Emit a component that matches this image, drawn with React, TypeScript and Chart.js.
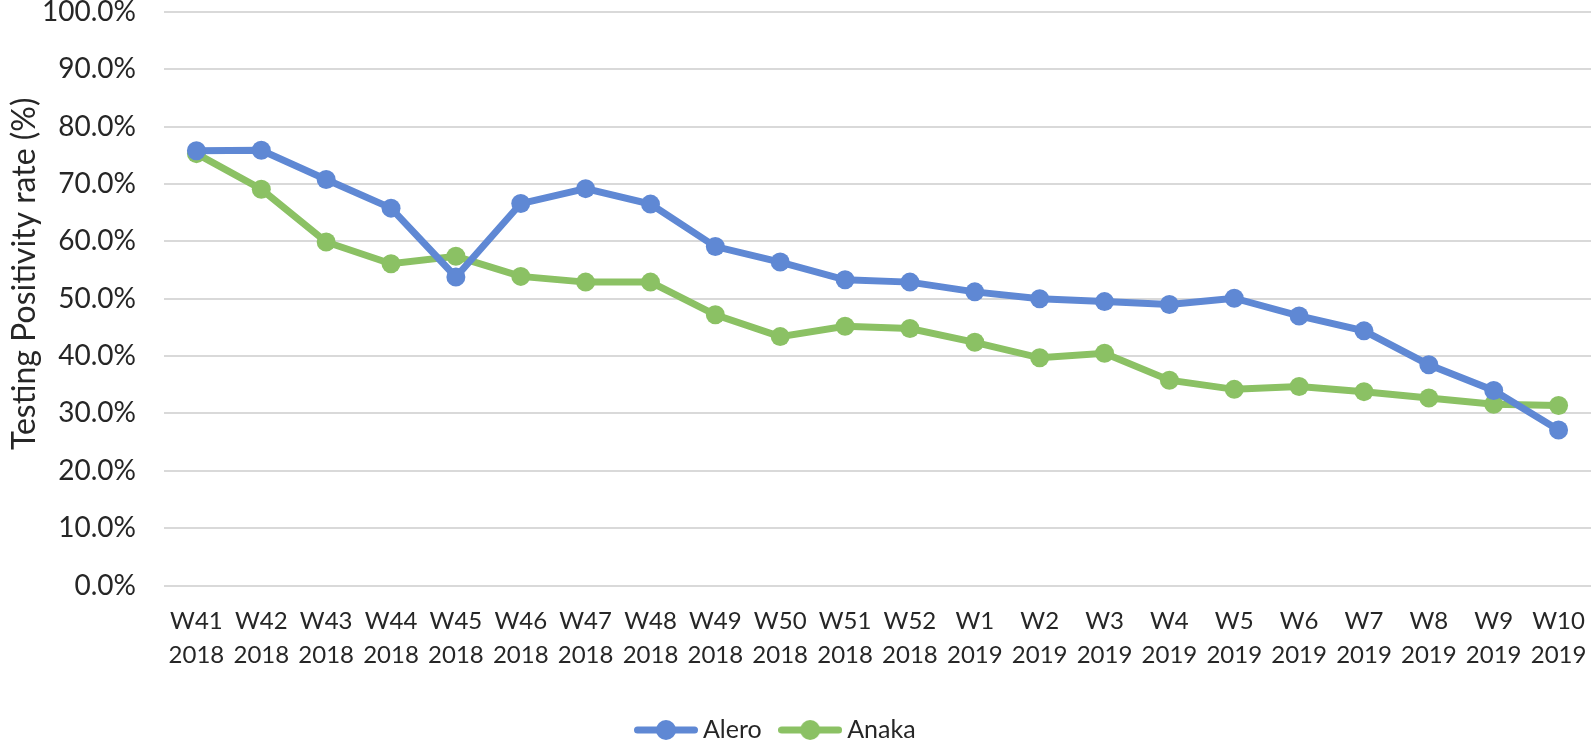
import React, { useEffect, useRef } from 'react';
import { Chart, registerables } from 'chart.js';

Chart.register(...registerables);

const weeks = ['W41', 'W42', 'W43', 'W44', 'W45', 'W46', 'W47', 'W48', 'W49', 'W50', 'W51', 'W52', 'W1', 'W2', 'W3', 'W4', 'W5', 'W6', 'W7', 'W8', 'W9', 'W10'];
const years = ['2018', '2018', '2018', '2018', '2018', '2018', '2018', '2018', '2018', '2018', '2018', '2018', '2019', '2019', '2019', '2019', '2019', '2019', '2019', '2019', '2019', '2019'];
const alero = [75.8, 75.9, 70.8, 65.8, 53.8, 66.6, 69.2, 66.5, 59.1, 56.4, 53.3, 52.9, 51.2, 50.0, 49.5, 49.0, 50.1, 47.0, 44.4, 38.5, 34.0, 27.1];
const anaka = [75.3, 69.1, 59.9, 56.1, 57.4, 53.9, 52.9, 52.9, 47.2, 43.4, 45.2, 44.8, 42.4, 39.7, 40.5, 35.8, 34.2, 34.7, 33.8, 32.7, 31.6, 31.4];
const seriesNames = ['Alero', 'Anaka'];
const yAxisTitle = 'Testing Positivity rate (%)';

const BLUE = '#5F88D4';
const GREEN = '#8BC164';
const TEXT = '#262626';
const FONT = "Lato, 'Open Sans', sans-serif";

function legendIcon(color: string) {
  const c = document.createElement('canvas');
  c.width = 64;
  c.height = 22;
  const ctx = c.getContext('2d')!;
  ctx.strokeStyle = color;
  ctx.lineWidth = 7;
  ctx.lineCap = 'round';
  ctx.beginPath();
  ctx.moveTo(3.5, 11);
  ctx.lineTo(60.5, 11);
  ctx.stroke();
  ctx.fillStyle = color;
  ctx.beginPath();
  ctx.arc(32, 11, 10, 0, Math.PI * 2);
  ctx.fill();
  return c;
}

const yTitlePlugin = {
  id: 'yTitleCustom',
  afterDraw(chart: any) {
    const ctx = chart.ctx;
    const area = chart.chartArea;
    ctx.save();
    ctx.translate(25, (area.top + area.bottom) / 2 - 25);
    ctx.rotate(-Math.PI / 2);
    ctx.font = `32px ${FONT}`;
    ctx.fillStyle = TEXT;
    ctx.textAlign = 'center';
    ctx.textBaseline = 'middle';
    ctx.fillText(yAxisTitle, 0, 0);
    ctx.restore();
  },
};

const legendShiftPlugin = {
  id: 'legendShift',
  afterLayout(chart: any) {
    const lg = chart.legend;
    if (lg) {
      lg.left -= 17;
      lg.right -= 17;
    }
  },
};

export default function App() {
  const ref = useRef<HTMLCanvasElement>(null);

  useEffect(() => {
    if (!ref.current) return;
    const icons = [legendIcon(BLUE), legendIcon(GREEN)];
    const chart = new Chart(ref.current, {
      type: 'line',
      data: {
        labels: weeks.map((w, i) => [w, years[i]]),
        datasets: [
          {
            label: seriesNames[0],
            data: alero,
            borderColor: BLUE,
            backgroundColor: BLUE,
            borderWidth: 7,
            pointRadius: 9.5,
            pointBorderWidth: 0,
            pointBackgroundColor: BLUE,
            tension: 0,
          },
          {
            label: seriesNames[1],
            data: anaka,
            borderColor: GREEN,
            backgroundColor: GREEN,
            borderWidth: 7,
            pointRadius: 9.5,
            pointBorderWidth: 0,
            pointBackgroundColor: GREEN,
            tension: 0,
          },
        ],
      },
      options: {
        animation: false,
        responsive: true,
        maintainAspectRatio: false,
        layout: { autoPadding: false, padding: { top: 12, right: 3, bottom: -2.5, left: 0 } },
        plugins: {
          tooltip: { enabled: false },
          legend: {
            position: 'bottom',
            labels: {
              usePointStyle: true,
              pointStyleWidth: 49,
              padding: 24,
              color: TEXT,
              font: { family: FONT, size: 25 },
              generateLabels: (c: any) =>
                c.data.datasets.map((ds: any, i: number) => ({
                  text: ds.label,
                  fillStyle: ds.borderColor,
                  strokeStyle: ds.borderColor,
                  lineWidth: 0,
                  pointStyle: icons[i],
                  hidden: false,
                  datasetIndex: i,
                  fontColor: TEXT,
                })),
            },
          },
        },
        scales: {
          x: {
            offset: true,
            grid: { display: false, drawTicks: false },
            border: { display: false },
            ticks: {
              color: TEXT,
              font: { family: FONT, size: 24, lineHeight: 1.4 },
              padding: 19,
              maxRotation: 0,
              autoSkip: false,
            },
            afterFit: (s: any) => {
              s.height = 108;
              s.paddingLeft = 0;
              s.paddingRight = 0;
            },
          },
          y: {
            min: 0,
            max: 100,
            grid: { color: '#D9D9D9', lineWidth: 2, drawTicks: false },
            border: { display: false },
            ticks: {
              stepSize: 10,
              color: TEXT,
              font: { family: FONT, size: 28 },
              padding: 28,
              callback: (v: any) => Number(v).toFixed(1) + '%',
            },
            afterFit: (s: any) => {
              s.width = 164;
              s.paddingTop = 0;
              s.paddingBottom = 0;
            },
          },
        },
      },
      plugins: [yTitlePlugin, legendShiftPlugin],
    });
    return () => chart.destroy();
  }, []);

  return (
    <div style={{ position: 'absolute', left: 0, top: 0, width: 1594, height: 750, background: '#fff' }}>
      <canvas ref={ref} />
    </div>
  );
}
